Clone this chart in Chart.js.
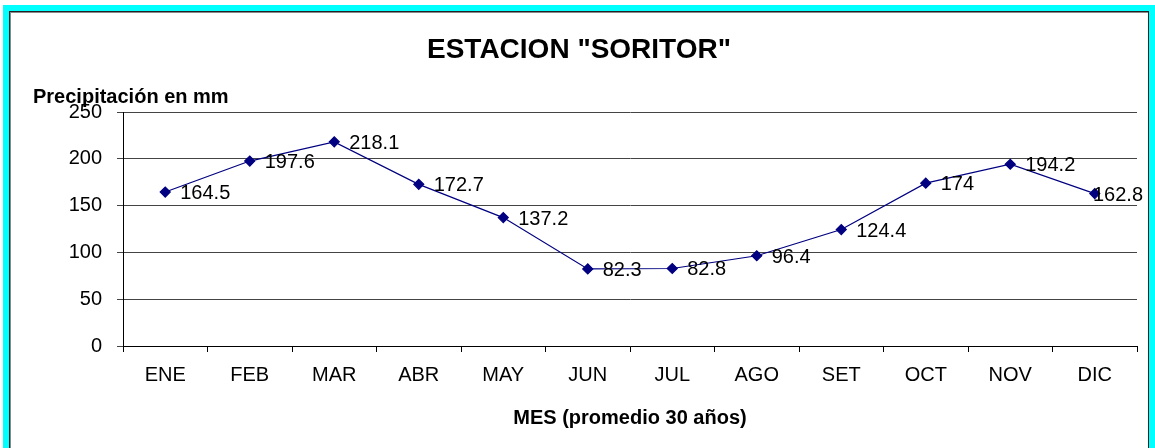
<!DOCTYPE html>
<html>
<head>
<meta charset="utf-8">
<script src="https://cdn.jsdelivr.net/npm/chart.js@4"></script>
<style>
  html, body { margin: 0; padding: 0; background: #fff; overflow: hidden; }
  #frame {
    position: absolute; left: 3px; top: 5px; width: 1152px; height: 470px;
    box-sizing: border-box; border: 6px solid #00ffff;
  }
  #inner {
    position: absolute; left: 0; top: 0; right: 0; bottom: 0;
    border: 1px solid #222; box-shadow: 1px 1px 0 #888 inset;
  }
  #chart { position: absolute; left: 0; top: 0; }
</style>
</head>
<body>
<div id="frame"><div id="inner"></div></div>
<canvas id="chart" width="1155" height="448"></canvas>
<script>
const months = ['ENE', 'FEB', 'MAR', 'ABR', 'MAY', 'JUN', 'JUL', 'AGO', 'SET', 'OCT', 'NOV', 'DIC'];
const rainfall = [164.5, 197.6, 218.1, 172.7, 137.2, 82.3, 82.8, 96.4, 124.4, 174, 194.2, 162.8];
const chartTitle = 'ESTACION "SORITOR"';
const yTitle = 'Precipitación en mm';
const xTitle = 'MES (promedio 30 años)';

const FONT = '"Liberation Sans", Arial, sans-serif';

// titles and point labels, drawn by hand like the original sheet
const labelsPlugin = {
   id: 'labels',
   afterDatasetsDraw(chart) {
      const ctx = chart.ctx;
      const area = chart.chartArea;
      ctx.save();
      ctx.fillStyle = '#000';
      ctx.font = '20px ' + FONT;
      ctx.textAlign = 'left';
      ctx.textBaseline = 'alphabetic';
      const meta = chart.getDatasetMeta(0);
      meta.data.forEach((pt, i) => {
         const txt = String(chart.data.datasets[0].data[i]);
         const w = ctx.measureText(txt).width;
         let x = pt.x + 15;
         if (x + w > area.right + 6) x = area.right + 6 - w;
         ctx.fillText(txt, x, pt.y + 7);
      });

      ctx.font = 'bold 28px ' + FONT;
      ctx.textAlign = 'center';
      ctx.fillText(chartTitle, 579, 58);

      ctx.font = 'bold 20px ' + FONT;
      ctx.textAlign = 'left';
      ctx.fillText(yTitle, 33, 103);

      ctx.textAlign = 'center';
      ctx.fillText(xTitle, (area.left + area.right) / 2, 424);
      ctx.restore();
   }
};

new Chart(document.getElementById('chart').getContext('2d'), {
   type: 'line',
   data: {
      labels: months,
      datasets: [{
         data: rainfall,
         borderColor: '#000080',
         backgroundColor: '#000080',
         borderWidth: 1.2,
         pointStyle: 'rectRot',
         pointRadius: 5,
         pointBackgroundColor: '#000080',
         pointBorderColor: '#000080',
         tension: 0
      }]
   },
   options: {
      responsive: false,
      animation: false,
      devicePixelRatio: 1,
      layout: { padding: { left: 0, right: 18, top: 112, bottom: 0 } },
      plugins: {
         legend: { display: false },
         title: { display: false },
         tooltip: { enabled: false }
      },
      scales: {
         x: {
            offset: true,
            grid: {
               offset: true,
               drawOnChartArea: false,
               drawTicks: true,
               tickLength: 6,
               color: '#000'
            },
            border: { display: true, color: '#000', width: 1 },
            ticks: { color: '#000', font: { family: FONT, size: 20 }, padding: 11, maxRotation: 0 },
            afterFit(scale) { scale.height = 102; }
         },
         y: {
            min: 0,
            max: 250,
            grid: { color: '#444', tickLength: 6, lineWidth: 1 },
            border: { display: true, color: '#000', width: 1 },
            ticks: { stepSize: 50, color: '#000', font: { family: FONT, size: 20 }, padding: 15 },
            afterFit(scale) { scale.width = 123; }
         }
      }
   },
   plugins: [labelsPlugin]
});
</script>
</body>
</html>
